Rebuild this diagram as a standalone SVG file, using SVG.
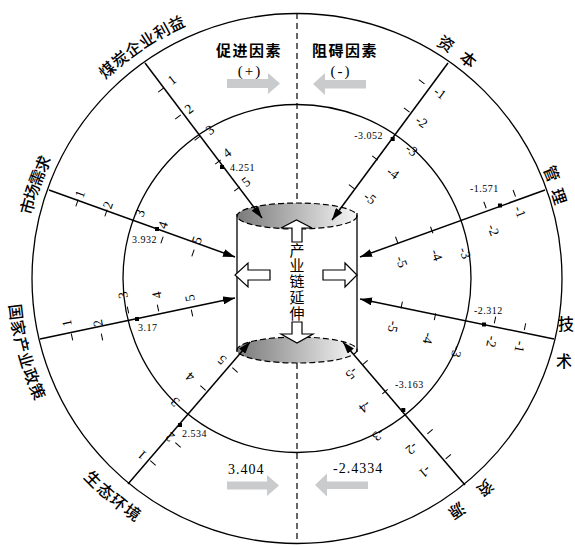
<svg xmlns="http://www.w3.org/2000/svg" width="575" height="546" viewBox="0 0 575 546">
<style>
.ln{fill:none;stroke:#000;stroke-width:1.3}
.sp{fill:none;stroke:#000;stroke-width:1.5;marker-end:url(#ah)}
.tk{stroke:#000;stroke-width:1}
.n{font-family:"Liberation Serif",serif;font-size:13.5px;text-anchor:middle;dominant-baseline:central}
.v{font-family:"Liberation Serif",serif;font-size:10px;letter-spacing:0.5px}
.ol{font-family:"Noto Sans CJK SC",sans-serif;font-size:16px;font-weight:500;text-anchor:middle;dominant-baseline:central}
.hd{font-family:"Noto Sans CJK SC",sans-serif;font-size:15px;font-weight:bold;text-anchor:middle;letter-spacing:1.5px}
.pm{font-family:"Liberation Serif",serif;font-size:15px;text-anchor:middle;letter-spacing:2px}
.big{font-family:"Liberation Serif",serif;font-size:14px;letter-spacing:1px}
.ga{fill:#c9cbcd}
.ho{fill:#fff;stroke:#000;stroke-width:1.2}
.dash{fill:none;stroke:#000;stroke-width:1.2;stroke-dasharray:6 4}
.cy{font-family:"Noto Sans CJK SC",sans-serif;font-size:15px;writing-mode:vertical-rl;letter-spacing:0.75px}
</style>
<defs>
<marker id="ah" markerUnits="userSpaceOnUse" markerWidth="12" markerHeight="8" refX="12" refY="4" orient="auto" viewBox="0 0 12 8"><path d="M0,0 L12,4 L0,8 z" fill="#000"/></marker>
<line id="t" class="tk" x1="0" y1="-3.5" x2="0" y2="3.5"/>
<rect id="d" x="-2" y="-2" width="4" height="4" fill="#000"/>
<linearGradient id="g" x1="0" x2="1" y1="0" y2="0"><stop offset="0" stop-color="#7a7a7a"/><stop offset="0.6" stop-color="#c4c4c4"/><stop offset="1" stop-color="#f6f6f6"/></linearGradient>
</defs>
<rect width="575" height="546" fill="#fff"/>

<g id="rings">
<circle class="ln" cx="297" cy="278.5" r="265"/>
<circle class="ln" cx="297" cy="278.5" r="174"/>
<line class="dash" x1="297" y1="13" x2="297" y2="203"/>
<line class="dash" x1="297" y1="363" x2="297" y2="543"/>
</g>

<g id="legend-top">
<text class="hd" x="249" y="56">促进因素</text>
<text class="pm" x="250" y="76">(+)</text>
<polygon class="ga" points="227,79 268,79 268,73 280,83.5 268,94 268,88 227,88"/>
<text class="hd" x="345" y="56">阻碍因素</text>
<text class="pm" x="341" y="76">(-)</text>
<polygon class="ga" points="313,84 325,73 325,80 366,80 366,88.5 325,88.5 325,95"/>
</g>

<g id="legend-bottom">
<text class="big" x="228" y="474">3.404</text>
<polygon class="ga" points="227,481.5 267,481.5 267,475 279,485.5 267,496 267,489.5 227,489.5"/>
<text class="big" x="333" y="473">-2.4334</text>
<polygon class="ga" points="315,485 327,473.5 327,481.5 368,481.5 368,489 327,489 327,496.5"/>
</g>

<g id="cylinder">
<ellipse cx="297" cy="216" rx="60" ry="13" fill="url(#g)" stroke="#000" stroke-width="1.2" stroke-dasharray="6 3"/>
<ellipse cx="297" cy="350" rx="60" ry="13" fill="url(#g)" stroke="#000" stroke-width="1.2" stroke-dasharray="6 3"/>
<line class="ln" x1="237" y1="214" x2="237" y2="352"/>
<line class="ln" x1="357" y1="213" x2="357" y2="352"/>
<polygon class="ho" points="292,242 292,228 281,228 296.5,220 312,228 302,228 302,242"/>
<polygon class="ho" points="292,322 302,322 302,334 313,334 297,343 281,334 292,334"/>
<polygon class="ho" points="270,270 248,270 248,263 235,275 248,287 248,280 270,280"/>
<polygon class="ho" points="323,270 345,270 345,263 357,275 345,287 345,280 323,280"/>
<text class="cy" x="297" y="242.5">产业链延伸</text>
</g>

<g id="connectors">
<line class="sp" x1="145" y1="63" x2="262" y2="218"/>
<line class="sp" x1="49" y1="190" x2="235" y2="257"/>
<line class="sp" x1="40" y1="339" x2="235" y2="298"/>
<line class="sp" x1="128" y1="484" x2="250" y2="342"/>
<line class="sp" x1="448" y1="63" x2="332" y2="220"/>
<line class="sp" x1="545" y1="190" x2="360" y2="257"/>
<line class="sp" x1="554" y1="339" x2="360" y2="299"/>
<line class="sp" x1="465" y1="485" x2="343" y2="342"/>
</g>

<g id="scale-profit">
<use href="#t" transform="translate(161,90) rotate(52.95)"/>
<use href="#t" transform="translate(178,117) rotate(52.95)"/>
<use href="#t" transform="translate(197.4,138.2) rotate(52.95)"/>
<use href="#t" transform="translate(218,162) rotate(52.95)"/>
<use href="#t" transform="translate(237,189) rotate(52.95)"/>
<text class="n" transform="translate(172,80) rotate(-37.05)">1</text>
<text class="n" transform="translate(189,109) rotate(-37.05)">2</text>
<text class="n" transform="translate(210,130) rotate(-37.05)">3</text>
<text class="n" transform="translate(227,153) rotate(-37.05)">4</text>
<text class="n" transform="translate(246,182) rotate(-37.05)">5</text>
<use href="#d" x="222" y="167"/>
<text class="v" x="230" y="171">4.251</text>
</g>

<g id="scale-market">
<use href="#t" transform="translate(77,203) rotate(19.73)"/>
<use href="#t" transform="translate(106,213) rotate(19.73)"/>
<use href="#t" transform="translate(162,240) rotate(19.73)"/>
<use href="#t" transform="translate(193,253) rotate(19.73)"/>
<text class="n" transform="translate(80,194) rotate(-70.27)">1</text>
<text class="n" transform="translate(108,205) rotate(-70.27)">2</text>
<text class="n" transform="translate(140,213) rotate(-70.27)">3</text>
<text class="n" transform="translate(163,225) rotate(-70.27)">4</text>
<text class="n" transform="translate(197,240) rotate(-70.27)">5</text>
<use href="#d" x="157" y="229"/>
<text class="v" x="132" y="243">3.932</text>
</g>

<g id="scale-policy">
<use href="#t" transform="translate(72,337) rotate(-11.71)"/>
<use href="#t" transform="translate(102,337) rotate(-11.71)"/>
<use href="#t" transform="translate(128,310) rotate(-11.71)"/>
<use href="#t" transform="translate(158,308) rotate(-11.71)"/>
<use href="#t" transform="translate(192,313) rotate(-11.71)"/>
<text class="n" transform="translate(67,323) rotate(-101.71)">1</text>
<text class="n" transform="translate(98,323) rotate(-101.71)">2</text>
<text class="n" transform="translate(123,295) rotate(-101.71)">3</text>
<text class="n" transform="translate(157,295) rotate(-101.71)">4</text>
<text class="n" transform="translate(190,298) rotate(-101.71)">5</text>
<use href="#d" x="137" y="319"/>
<text class="v" x="138" y="331">3.17</text>
</g>

<g id="scale-ecology">
<use href="#t" transform="translate(153,463) rotate(-49.33)"/>
<use href="#t" transform="translate(178,445) rotate(-49.33)"/>
<use href="#t" transform="translate(203,388) rotate(-49.33)"/>
<use href="#t" transform="translate(235,370) rotate(-49.33)"/>
<text class="n" transform="translate(142,455) rotate(-139.33)">1</text>
<text class="n" transform="translate(170,437) rotate(-139.33)">2</text>
<text class="n" transform="translate(175,402) rotate(-139.33)">3</text>
<text class="n" transform="translate(190,377) rotate(-139.33)">4</text>
<text class="n" transform="translate(222,360) rotate(-139.33)">5</text>
<use href="#d" x="180" y="425"/>
<text class="v" x="182" y="437">2.534</text>
</g>

<g id="scale-capital">
<use href="#t" transform="translate(421.7,81.7) rotate(126.46)"/>
<use href="#t" transform="translate(406.7,110) rotate(126.46)"/>
<use href="#t" transform="translate(375,158) rotate(126.46)"/>
<use href="#t" transform="translate(351.7,186.7) rotate(126.46)"/>
<text class="n" transform="translate(440,93) rotate(36.46)">-1</text>
<text class="n" transform="translate(421.7,121.7) rotate(36.46)">-2</text>
<text class="n" transform="translate(411.7,150) rotate(36.46)">-3</text>
<text class="n" transform="translate(393,173) rotate(36.46)">-4</text>
<text class="n" transform="translate(370,198) rotate(36.46)">-5</text>
<use href="#d" x="392.7" y="139"/>
<text class="v" x="383" y="139" text-anchor="end">-3.052</text>
</g>

<g id="scale-management">
<use href="#t" transform="translate(514.3,193.3) rotate(160.09)"/>
<use href="#t" transform="translate(485,205) rotate(160.09)"/>
<use href="#t" transform="translate(431.7,230) rotate(160.09)"/>
<use href="#t" transform="translate(396.7,240) rotate(160.09)"/>
<text class="n" transform="translate(520,211.7) rotate(70.09)">-1</text>
<text class="n" transform="translate(493.3,230) rotate(70.09)">-2</text>
<text class="n" transform="translate(465,253) rotate(70.09)">-3</text>
<text class="n" transform="translate(436.7,255) rotate(70.09)">-4</text>
<text class="n" transform="translate(401.7,261.7) rotate(70.09)">-5</text>
<use href="#d" x="500" y="205.5"/>
<text class="v" x="470" y="192">-1.571</text>
</g>

<g id="scale-technology">
<use href="#t" transform="translate(525,326.7) rotate(-168.35)"/>
<use href="#t" transform="translate(495,320) rotate(-168.35)"/>
<use href="#t" transform="translate(435,316.7) rotate(-168.35)"/>
<use href="#t" transform="translate(401.7,305) rotate(-168.35)"/>
<text class="n" transform="translate(520,346.7) rotate(101.65)">-1</text>
<text class="n" transform="translate(491.7,341.7) rotate(101.65)">-2</text>
<text class="n" transform="translate(456.7,351.7) rotate(101.65)">-3</text>
<text class="n" transform="translate(428.3,338.3) rotate(101.65)">-4</text>
<text class="n" transform="translate(393.3,326.7) rotate(101.65)">-5</text>
<use href="#d" x="484" y="324.5"/>
<text class="v" x="474" y="314">-2.312</text>
</g>

<g id="scale-resource">
<use href="#t" transform="translate(448.3,456.7) rotate(-130.47)"/>
<use href="#t" transform="translate(430,431.7) rotate(-130.47)"/>
<use href="#t" transform="translate(385,391.7) rotate(-130.47)"/>
<use href="#t" transform="translate(365,362.7) rotate(-130.47)"/>
<text class="n" transform="translate(425,471.7) rotate(139.53)">-1</text>
<text class="n" transform="translate(411.7,448.3) rotate(139.53)">-2</text>
<text class="n" transform="translate(378.3,435) rotate(139.53)">-3</text>
<text class="n" transform="translate(365,406.7) rotate(139.53)">-4</text>
<text class="n" transform="translate(351.7,373.3) rotate(139.53)">-5</text>
<use href="#d" x="403.3" y="410"/>
<text class="v" x="395" y="388">-3.163</text>
</g>

<g id="label-profit">
<text class="ol" x="297" y="-4.5" transform="rotate(-42.3 297 278.5)">煤</text>
<text class="ol" x="297" y="-4.5" transform="rotate(-38.9 297 278.5)">炭</text>
<text class="ol" x="297" y="-4.5" transform="rotate(-35.5 297 278.5)">企</text>
<text class="ol" x="297" y="-4.5" transform="rotate(-32.1 297 278.5)">业</text>
<text class="ol" x="297" y="-4.5" transform="rotate(-28.7 297 278.5)">利</text>
<text class="ol" x="297" y="-4.5" transform="rotate(-25.3 297 278.5)">益</text>
</g>
<g id="label-market">
<text class="ol" x="297" y="-1.5" transform="rotate(-75 297 278.5)">市</text>
<text class="ol" x="297" y="-1.5" transform="rotate(-71.9 297 278.5)">场</text>
<text class="ol" x="297" y="-1.5" transform="rotate(-68.8 297 278.5)">需</text>
<text class="ol" x="297" y="-1.5" transform="rotate(-65.7 297 278.5)">求</text>
</g>
<g id="label-policy">
<text class="ol" x="297" y="560.5" transform="rotate(83.2 297 278.5)">国</text>
<text class="ol" x="297" y="560.5" transform="rotate(79.9 297 278.5)">家</text>
<text class="ol" x="297" y="560.5" transform="rotate(76.5 297 278.5)">产</text>
<text class="ol" x="297" y="560.5" transform="rotate(73.2 297 278.5)">业</text>
<text class="ol" x="297" y="560.5" transform="rotate(69.8 297 278.5)">政</text>
<text class="ol" x="297" y="560.5" transform="rotate(66.5 297 278.5)">策</text>
</g>
<g id="label-ecology">
<text class="ol" x="297" y="563.5" transform="rotate(45.5 297 278.5)">生</text>
<text class="ol" x="297" y="563.5" transform="rotate(42 297 278.5)">态</text>
<text class="ol" x="297" y="563.5" transform="rotate(38.6 297 278.5)">环</text>
<text class="ol" x="297" y="563.5" transform="rotate(35.1 297 278.5)">境</text>
</g>
<g id="label-capital">
<text class="ol" x="297" y="-0.5" transform="rotate(32.4 297 278.5)">资</text>
<text class="ol" x="297" y="-0.5" transform="rotate(38.05 297 278.5)">本</text>
</g>
<g id="label-management">
<text class="ol" x="297" y="2" transform="rotate(67.6 297 278.5)">管</text>
<text class="ol" x="297" y="3" transform="rotate(72.6 297 278.5)">理</text>
</g>
<g id="label-technology">
<text class="ol" x="566" y="323">技</text>
<text class="ol" x="564" y="360">术</text>
</g>
<g id="label-resource">
<text class="ol" x="297" y="-4.5" transform="rotate(138.1 297 278.5)">资</text>
<text class="ol" x="297" y="-4.5" transform="rotate(145.4 297 278.5)">源</text>
</g>
</svg>
